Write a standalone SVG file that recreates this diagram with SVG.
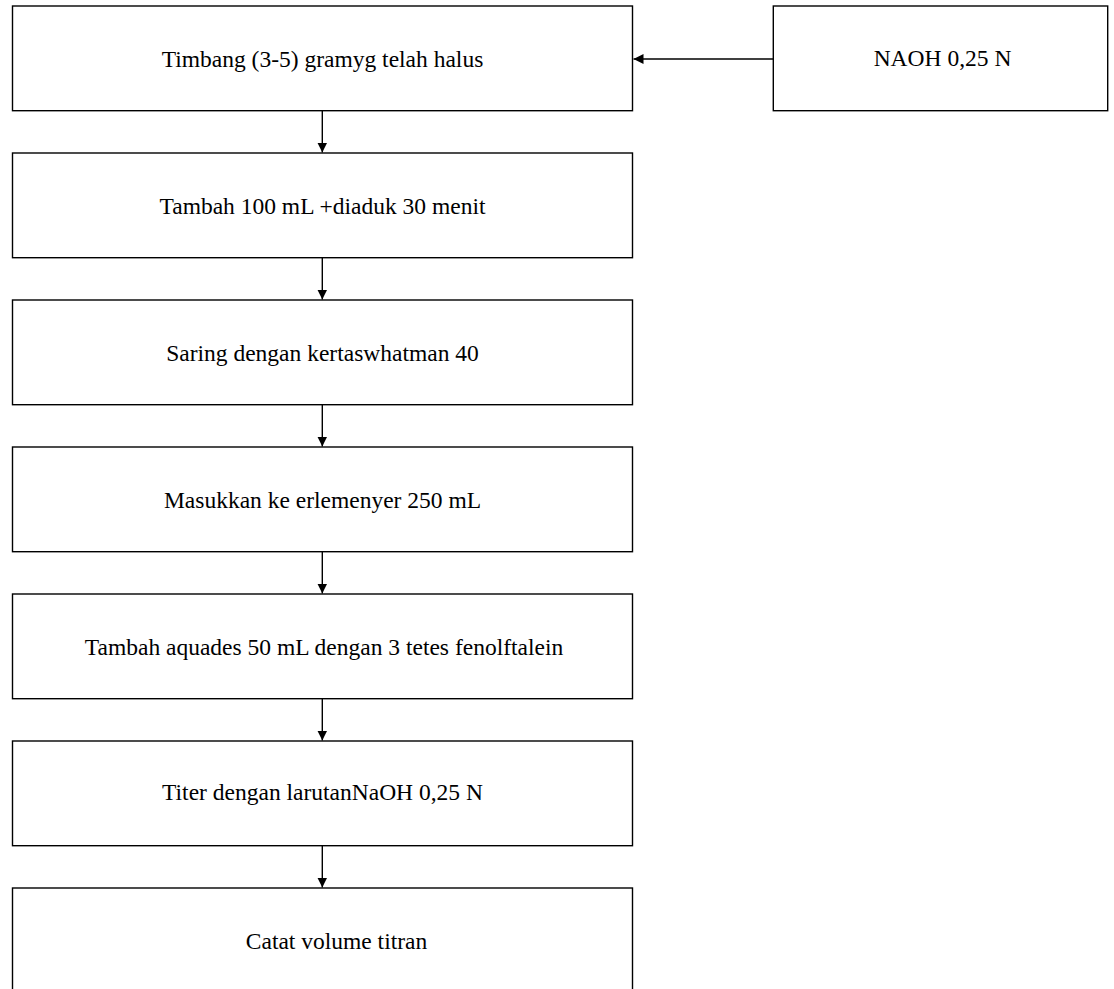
<svg xmlns="http://www.w3.org/2000/svg" width="1114" height="989" viewBox="0 0 1114 989">
<style>
.box{fill:#fff;stroke:#000;stroke-width:1.4}
.t{font-family:"Liberation Serif","Times New Roman",serif;font-size:23.5px;fill:#000;text-anchor:middle}
.c{stroke:#000;stroke-width:1.4;fill:none}
</style>
<defs>
<marker id="ah" viewBox="0 0 10 10" refX="10" refY="5" markerWidth="10" markerHeight="10" markerUnits="userSpaceOnUse" orient="auto">
<path d="M0,0 L10,5 L0,10 Z" fill="#000"/>
</marker>
</defs>
<rect width="1114" height="989" fill="#fff"/>
<g id="n1"><rect class="box" x="12.5" y="6" width="620" height="104.7"/><text class="t" x="322.5" y="66.5">Timbang (3-5) gramyg telah halus</text></g>
<g id="n2"><rect class="box" x="12.5" y="153" width="620" height="104.7"/><text class="t" x="322.5" y="213.5">Tambah 100 mL +diaduk 30 menit</text></g>
<g id="n3"><rect class="box" x="12.5" y="300" width="620" height="104.7"/><text class="t" x="322.5" y="360.5">Saring dengan kertaswhatman 40</text></g>
<g id="n4"><rect class="box" x="12.5" y="447" width="620" height="104.7"/><text class="t" x="322.5" y="507.5">Masukkan ke erlemenyer 250 mL</text></g>
<g id="n5"><rect class="box" x="12.5" y="594" width="620" height="104.7"/><text class="t" x="324" y="654.5">Tambah aquades 50 mL dengan 3 tetes fenolftalein</text></g>
<g id="n6"><rect class="box" x="12.5" y="741" width="620" height="104.7"/><text class="t" x="322.5" y="800">Titer dengan larutanNaOH 0,25 N</text></g>
<g id="n7"><rect class="box" x="12.5" y="888" width="620" height="104.7"/><text class="t" x="336.5" y="949">Catat volume titran</text></g>
<g id="n8"><rect class="box" x="773.3" y="6" width="334.4" height="104.7"/><text class="t" x="942.5" y="66">NAOH 0,25 N</text></g>
<g id="connectors">
<line class="c" x1="773.3" y1="59" x2="633.5" y2="59" marker-end="url(#ah)"/>
<line class="c" x1="322.3" y1="110.7" x2="322.3" y2="152.5" marker-end="url(#ah)"/>
<line class="c" x1="322.3" y1="257.7" x2="322.3" y2="299.5" marker-end="url(#ah)"/>
<line class="c" x1="322.3" y1="404.7" x2="322.3" y2="446.5" marker-end="url(#ah)"/>
<line class="c" x1="322.3" y1="551.7" x2="322.3" y2="593.5" marker-end="url(#ah)"/>
<line class="c" x1="322.3" y1="698.7" x2="322.3" y2="740.5" marker-end="url(#ah)"/>
<line class="c" x1="322.3" y1="845.7" x2="322.3" y2="887.5" marker-end="url(#ah)"/>
</g>
</svg>
